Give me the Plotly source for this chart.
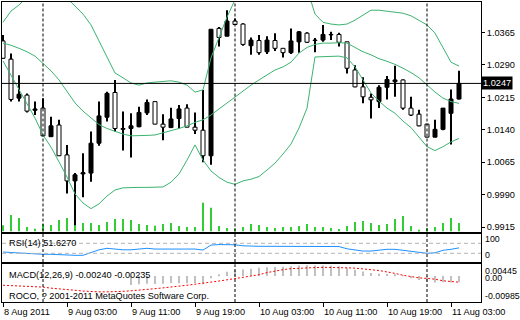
import plotly.graph_objects as go

# ---------------- data (H1 candles, 8 Aug 2011 19:00 -> 11 Aug 2011 04:00) ----------------
opens = [1.0345, 1.0303, 1.0213, 1.0220, 1.0185, 1.0190, 1.0124, 1.0151, 1.0082, 1.0022,
         1.0038, 1.0040, 1.0109, 1.0169, 1.0226, 1.0141, 1.0143, 1.0147, 1.0179, 1.0205,
         1.0153, 1.0145, 1.0166, 1.0190, 1.0146, 1.0139, 1.0080, 1.0374, 1.0356, 1.0391,
         1.0384, 1.0334, 1.0346, 1.0320, 1.0346, 1.0328, 1.0318, 1.0343, 1.0363, 1.0346,
         1.0347, 1.0359, 1.0360, 1.0343, 1.0278, 1.0239, 1.0215, 1.0205, 1.0238, 1.0251,
         1.0255, 1.0190, 1.0176, 1.0153, 1.0123, 1.0141, 1.0178, 1.0211]
highs = [1.0359, 1.0316, 1.0266, 1.0224, 1.0205, 1.0213, 1.0170, 1.0163, 1.0105, 1.0040,
         1.0086, 1.0136, 1.0205, 1.0228, 1.0255, 1.0182, 1.0178, 1.0193, 1.0210, 1.0206,
         1.0176, 1.0191, 1.0197, 1.0199, 1.0180, 1.0232, 1.0372, 1.0377, 1.0416, 1.0397,
         1.0386, 1.0353, 1.0359, 1.0356, 1.0363, 1.0328, 1.0374, 1.0368, 1.0365, 1.0352,
         1.0382, 1.0366, 1.0364, 1.0343, 1.0289, 1.0261, 1.0224, 1.0243, 1.0264, 1.0288,
         1.0256, 1.0216, 1.0186, 1.0153, 1.0163, 1.0190, 1.0233, 1.0276]
lows = [1.0304, 1.0205, 1.0205, 1.0180, 1.0174, 1.0125, 1.0124, 1.0080, 0.9993, 0.9918,
        0.9984, 1.0020, 1.0103, 1.0159, 1.0136, 1.0092, 1.0076, 1.0146, 1.0174, 1.0153,
        1.0116, 1.0144, 1.0143, 1.0146, 1.0130, 1.0065, 1.0059, 1.0332, 1.0356, 1.0382,
        1.0334, 1.0313, 1.0313, 1.0315, 1.0322, 1.0307, 1.0315, 1.0318, 1.0340, 1.0319,
        1.0343, 1.0347, 1.0332, 1.0270, 1.0238, 1.0201, 1.0166, 1.0190, 1.0210, 1.0216,
        1.0186, 1.0172, 1.0148, 1.0123, 1.0123, 1.0139, 1.0106, 1.0210]
closes = [1.0305, 1.0210, 1.0222, 1.0183, 1.0188, 1.0126, 1.0149, 1.0080, 1.0022, 1.0036,
          1.0041, 1.0109, 1.0172, 1.0224, 1.0143, 1.0143, 1.0149, 1.0180, 1.0203, 1.0153,
          1.0146, 1.0165, 1.0188, 1.0146, 1.0139, 1.0080, 1.0372, 1.0353, 1.0391, 1.0383,
          1.0337, 1.0347, 1.0318, 1.0347, 1.0328, 1.0318, 1.0345, 1.0366, 1.0342, 1.0347,
          1.0360, 1.0360, 1.0342, 1.0282, 1.0239, 1.0216, 1.0209, 1.0238, 1.0256, 1.0255,
          1.0190, 1.0174, 1.0149, 1.0123, 1.0141, 1.0190, 1.0211, 1.0247]
volumes = [310, 825, 675, 225, 140, 375, 325, 575, 675, 310,
           425, 425, 325, 475, 625, 625, 575, 375, 325, 290,
           375, 425, 275, 225, 225, 1440, 1190, 275, 175, 150,
           225, 375, 325, 225, 175, 225, 225, 275, 375, 225,
           225, 175, 125, 275, 475, 525, 425, 325, 375, 625,
           775, 275, 90, 175, 225, 425, 675, 425]
bb_upper = [1.0388, 1.0414, 1.0428, 1.0446, 1.0458, 1.0465, 1.0463, 1.0456, 1.0444, 1.0426,
            1.0407, 1.0382, 1.0345, 1.0308, 1.0271, 1.0260, 1.0248, 1.0243, 1.0248, 1.0250,
            1.0251, 1.0253, 1.0250, 1.0243, 1.0227, 1.0232, 1.0306, 1.0352, 1.0400, 1.0440,
            1.0474, 1.0497, 1.0509, 1.0513, 1.0509, 1.0504, 1.0490, 1.0474, 1.0467, 1.0407,
            1.0388, 1.0384, 1.0382, 1.0384, 1.0393, 1.0405, 1.0416, 1.0416, 1.0414, 1.0412,
            1.0409, 1.0403, 1.0393, 1.0382, 1.0363, 1.0331, 1.0296, 1.0287]
bb_middle = [1.0340, 1.0335, 1.0328, 1.0320, 1.0310, 1.0294, 1.0276, 1.0255, 1.0227, 1.0202,
             1.0183, 1.0167, 1.0152, 1.0143, 1.0137, 1.0130, 1.0126, 1.0126, 1.0127, 1.0128,
             1.0133, 1.0137, 1.0143, 1.0149, 1.0157, 1.0163, 1.0174, 1.0188, 1.0202, 1.0216,
             1.0230, 1.0243, 1.0255, 1.0266, 1.0278, 1.0285, 1.0296, 1.0317, 1.0330, 1.0337,
             1.0340, 1.0340, 1.0341, 1.0340, 1.0330, 1.0320, 1.0313, 1.0304, 1.0298, 1.0291,
             1.0282, 1.0272, 1.0260, 1.0243, 1.0227, 1.0213, 1.0205, 1.0201]
bb_lower = [1.0299, 1.0266, 1.0230, 1.0197, 1.0167, 1.0128, 1.0100, 1.0066, 1.0031, 0.9992,
            0.9971, 0.9958, 0.9969, 0.9987, 1.0001, 1.0006, 1.0007, 1.0007, 1.0007, 1.0007,
            1.0008, 1.0019, 1.0038, 1.0070, 1.0105, 1.0070, 1.0045, 1.0030, 1.0019, 1.0014,
            1.0022, 1.0026, 1.0032, 1.0047, 1.0063, 1.0084, 1.0107, 1.0144, 1.0190, 1.0308,
            1.0309, 1.0310, 1.0310, 1.0306, 1.0285, 1.0255, 1.0225, 1.0206, 1.0190, 1.0178,
            1.0160, 1.0145, 1.0123, 1.0101, 1.0092, 1.0101, 1.0112, 1.0120]
rsi = [35, 33, 30, 29, 28, 26, 26, 24, 22, 22,
       22, 33, 44, 50, 46, 44, 44, 47, 50, 47,
       48, 49, 47, 47, 47, 43, 63, 65, 65, 64,
       60, 58, 58, 58, 58, 55, 58, 57, 57, 57,
       57, 57, 57, 48, 44, 39, 39, 43, 46, 46,
       42, 37.5, 32, 30, 32, 42, 46, 51.627]
macd_hist = [None, None, None, None, None, None, None, None, None, None,
             None, None, None, None, None, None,
             -0.0034, -0.0031, -0.0029, -0.0030, -0.0029, -0.0026, -0.0027, -0.0027, -0.0026, -0.0031,
             -0.0008, 0.0006, 0.0016, 0.0022, 0.0025, 0.0028, 0.0031, 0.0033, 0.0034, 0.0035,
             0.0037, 0.0040, 0.0041, 0.0040, 0.0040, 0.0039, 0.0037, 0.0031, 0.0024, 0.0017,
             0.0011, 0.0009, 0.0008, 0.0006, -0.0001, -0.0008, -0.0015, -0.0021, -0.0025, -0.0024,
             -0.0025, -0.0024]
macd_signal = [-0.0035, -0.0036, -0.0037, -0.0039, -0.0040, -0.0042, -0.0046, -0.0048, -0.0051, -0.0054,
               -0.0057, -0.0059, -0.0060, -0.0060, -0.0060, -0.0058, -0.0056, -0.0054, -0.0051, -0.0048,
               -0.0045, -0.0042, -0.0040, -0.0035, -0.0031, -0.0026, -0.0023, -0.0019, -0.0015, -0.0010,
               -0.0005, 0.0000, 0.0005, 0.0013, 0.0019, 0.0024, 0.0028, 0.0030, 0.0031, 0.0032,
               0.0033, 0.0033, 0.0032, 0.0031, 0.0030, 0.0028, 0.0024, 0.0021, 0.0016, 0.0010,
               0.0003, -0.0002, -0.0007, -0.0009, -0.0012, -0.0018, -0.0022, -0.00235]

price_ticks = [0.9915, 0.9990, 1.0065, 1.0140, 1.0215, 1.0290, 1.0365]
time_tick_idx = [0, 8, 16, 24, 32, 40, 48, 56]
time_tick_labels = ["8 Aug 2011", "9 Aug 03:00", "9 Aug 11:00", "9 Aug 19:00",
                    "10 Aug 03:00", "10 Aug 11:00", "10 Aug 19:00", "11 Aug 03:00"]
day_separators = [5, 29, 53]
last_price = 1.0247
rsi_levels = [70, 30]
rsi_text = "RSI(14) 51.6270"
macd_text = "MACD(12,26,9) -0.00240 -0.00235"
copyright_text = "ROCO, ? 2001-2011 MetaQuotes Software Corp."

# ---------------- figure ----------------
FONT = "Liberation Sans"
FS = 9.2
n = len(closes)
idx = list(range(n))

fig = go.Figure()

# volume (green sticks at bottom of main window)
fig.add_trace(go.Bar(x=idx, y=volumes, width=0.125,
                     marker=dict(color="#32CD32", line=dict(width=0)),
                     xaxis="x", yaxis="y4", hoverinfo="skip"))

# wicks as thin bars (so that bodies drawn afterwards cover them)
fig.add_trace(go.Bar(x=idx, y=[h - l for h, l in zip(highs, lows)], base=lows, width=0.125,
                     marker=dict(color="black", line=dict(width=0)),
                     xaxis="x", yaxis="y", hoverinfo="skip"))

# bodies: black = rising, white = falling
for rising, fill in ((True, "black"), (False, "white")):
    bx, bbase, bh = [], [], []
    for i in idx:
        if (closes[i] >= opens[i]) == rising:
            bx.append(i)
            bbase.append(min(opens[i], closes[i]))
            bh.append(max(abs(closes[i] - opens[i]), 0.00002))
    fig.add_trace(go.Bar(x=bx, y=bh, base=bbase, width=0.5,
                         marker=dict(color=fill, line=dict(color="black", width=1)),
                         xaxis="x", yaxis="y", hoverinfo="skip"))

# Bollinger bands
for band in (bb_upper, bb_middle, bb_lower):
    fig.add_trace(go.Scatter(x=idx, y=band, mode="lines", line=dict(color="#3CB371", width=1),
                             xaxis="x", yaxis="y", hoverinfo="skip"))

# RSI
fig.add_trace(go.Scatter(x=idx, y=rsi, mode="lines", line=dict(color="#1E90FF", width=1),
                         xaxis="x2", yaxis="y2", hoverinfo="skip"))

# MACD
fig.add_trace(go.Bar(x=idx, y=macd_hist, width=0.125,
                     marker=dict(color="#C0C0C0", line=dict(width=0)),
                     xaxis="x3", yaxis="y3", hoverinfo="skip"))
fig.add_trace(go.Scatter(x=idx, y=macd_signal, mode="lines",
                         line=dict(color="red", width=1, dash="2px,2px"),
                         xaxis="x3", yaxis="y3", hoverinfo="skip"))

shapes = []
# day separators in each window
for d in day_separators:
    for xr_, yr_ in (("x", "y domain"), ("x2", "y2 domain"), ("x3", "y3 domain")):
        shapes.append(dict(type="line", xref=xr_, yref=yr_, x0=d, x1=d, y0=0, y1=1,
                           line=dict(color="black", width=1, dash="3px,2px")))
# last price line
shapes.append(dict(type="line", xref="x domain", yref="y", x0=0, x1=1, y0=last_price, y1=last_price,
                   line=dict(color="black", width=1)))
# RSI levels
for lv in rsi_levels:
    shapes.append(dict(type="line", xref="x2 domain", yref="y2", x0=0, x1=1, y0=lv, y1=lv,
                       line=dict(color="#B4B4B4", width=1, dash="4px,3px")))

annotations = []
# time labels (left aligned at the tick)
for k, lab in zip(time_tick_idx, time_tick_labels):
    annotations.append(dict(x=k, xref="x3", y=-0.0333, yref="paper", text=lab, showarrow=False,
                            xanchor="left", yanchor="middle", xshift=-1,
                            font=dict(family=FONT, size=FS, color="black")))
# last price box
annotations.append(dict(x=1, xref="paper", y=last_price, yref="y", text="%.4f" % last_price,
                        showarrow=False, xanchor="left", yanchor="middle", xshift=0,
                        bgcolor="black", borderpad=1,
                        font=dict(family=FONT, size=FS, color="white")))
# indicator names
for txt, yp in ((rsi_text, (302 - 242.7) / 300), (macd_text, (302 - 275) / 300),
                (copyright_text, (302 - 295.5) / 300)):
    annotations.append(dict(x=(6.5 - 2) / 479, xref="paper", y=yp, yref="paper", text=txt,
                            showarrow=False, xanchor="left", yanchor="middle",
                            font=dict(family=FONT, size=FS, color="black")))
# right scale of sub windows
for txt, ypx in (("100", 239.3), ("0", 255.0), ("0.00445", 271.0), ("0.00", 277.5), ("-0.00985", 295.7)):
    annotations.append(dict(x=1, xref="paper", y=(302 - ypx) / 300, yref="paper", text=txt,
                            showarrow=False, xanchor="left", yanchor="middle", xshift=2,
                            font=dict(family=FONT, size=8.8, color="black")))

axis_common = dict(showgrid=False, zeroline=False, showline=True, mirror=True,
                   linecolor="black", linewidth=1)
xr = [-0.125, 59.75]

fig.update_layout(
    width=520, height=320,
    margin=dict(l=2, r=39, t=2, b=18),
    paper_bgcolor="white", plot_bgcolor="white",
    showlegend=False, barmode="overlay",
    xaxis=dict(domain=[0, 1], anchor="y", range=xr, showticklabels=False, ticks="", **axis_common),
    yaxis=dict(domain=[0.235, 1], anchor="x", side="right", range=[0.99052, 1.04349],
               tickvals=price_ticks, ticktext=["%.4f" % v for v in price_ticks],
               ticks="outside", ticklen=3, tickcolor="black",
               tickfont=dict(family=FONT, size=FS, color="black"), **axis_common),
    yaxis4=dict(overlaying="y", anchor="x", range=[0, 11475], visible=False),
    xaxis2=dict(domain=[0, 1], anchor="y2", matches="x", range=xr, showticklabels=False, ticks="",
                **axis_common),
    yaxis2=dict(domain=[0.1333, 0.2277], anchor="x2", range=[-4.8, 108.4], showticklabels=False,
                ticks="", **axis_common),
    xaxis3=dict(domain=[0, 1], anchor="y3", matches="x", range=xr, tickvals=time_tick_idx,
                showticklabels=False, ticks="outside", ticklen=4, tickcolor="black", **axis_common),
    yaxis3=dict(domain=[0, 0.1257], anchor="x3", range=[-0.00985, 0.00445], showticklabels=False,
                ticks="", **axis_common),
    shapes=shapes, annotations=annotations,
)

fig.write_html("out.html")
